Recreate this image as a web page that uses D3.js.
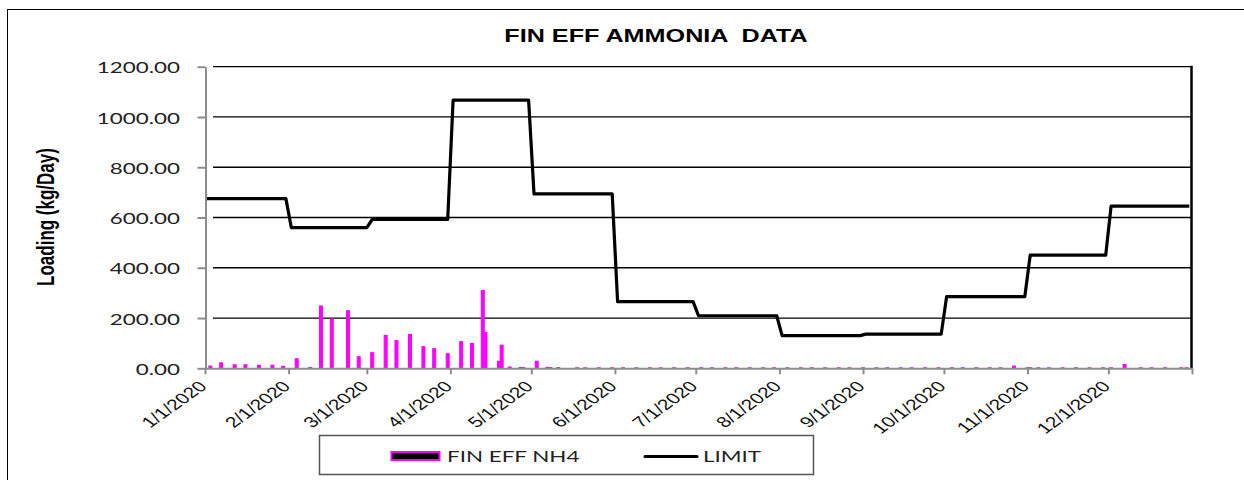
<!DOCTYPE html>
<html><head><meta charset="utf-8">
<script src="https://cdn.jsdelivr.net/npm/d3@7"></script>
<style>body{margin:0;background:#fff}svg{display:block}</style>
</head><body>
<svg id="c" width="1244" height="480"></svg>
<script>
// ---------- DATA ----------
const title = "FIN EFF AMMONIA  DATA";
const yLabel = "Loading (kg/Day)";
const yTicks = [0, 200, 400, 600, 800, 1000, 1200];
const xTickLabels = ["1/1/2020","2/1/2020","3/1/2020","4/1/2020","5/1/2020","6/1/2020","7/1/2020","8/1/2020","9/1/2020","10/1/2020","11/1/2020","12/1/2020"];
const xDomain = ["2020-01-01", "2021-01-01"];

const nh4Dates = ["2020-01-03","2020-01-07","2020-01-12","2020-01-16","2020-01-21","2020-01-26","2020-01-30","2020-02-04","2020-02-09","2020-02-13","2020-02-17","2020-02-23","2020-02-27","2020-03-03","2020-03-08","2020-03-12","2020-03-17","2020-03-22","2020-03-26","2020-03-31","2020-04-05","2020-04-09","2020-04-13","2020-04-14","2020-04-19","2020-04-20","2020-04-23","2020-04-27","2020-04-28","2020-05-03","2020-05-07","2020-05-08","2020-05-11","2020-05-18","2020-05-21","2020-05-26","2020-05-31","2020-06-04","2020-06-09","2020-06-14","2020-06-18","2020-06-23","2020-06-28","2020-07-03","2020-07-07","2020-07-12","2020-07-16","2020-07-21","2020-07-26","2020-07-30","2020-08-04","2020-08-09","2020-08-13","2020-08-18","2020-08-23","2020-08-27","2020-09-01","2020-09-06","2020-09-10","2020-09-15","2020-09-19","2020-09-24","2020-09-29","2020-10-04","2020-10-08","2020-10-13","2020-10-18","2020-10-22","2020-10-27","2020-11-01","2020-11-02","2020-11-05","2020-11-09","2020-11-14","2020-11-19","2020-11-24","2020-11-29","2020-12-02","2020-12-07","2020-12-13","2020-12-17","2020-12-22","2020-12-28","2020-12-30"];
const nh4Values = [9,22,14,14,12,12,8,38,3,248,196,229,46,62,131,110,135,86,78,58,106,99,310,143,28,92,5,3,3,28,4,3,3,2,2,2,2,2,2,2,2,2,2,2,2,2,2,2,2,2,2,2,2,2,2,2,2,2,2,2,2,2,2,2,2,2,2,2,9,2,2,2,2,2,2,2,2,2,15,2,2,2,2,2];

const limitDates = ["2020-01-01","2020-01-31","2020-02-02","2020-03-01","2020-03-03","2020-03-31","2020-04-02","2020-04-30","2020-05-02","2020-05-31","2020-06-02","2020-06-30","2020-07-02","2020-07-31","2020-08-02","2020-08-31","2020-09-02","2020-09-30","2020-10-02","2020-10-31","2020-11-02","2020-11-30","2020-12-02","2020-12-31"];
const limitValues = [675,675,560,560,592,592,1067,1067,694,694,265,265,209,209,130,130,136,136,285,285,450,450,645,645];

const legendLabels = ["FIN EFF NH4", "LIMIT"];

// ---------- CHART ----------
const SX = 1.4; // horizontal stretch of the original picture
const svg = d3.select("#c");
const parse = d3.utcParse("%Y-%m-%d");
const parseTick = d3.utcParse("%m/%d/%Y");

const x = d3.scaleUtc().domain(xDomain.map(parse)).range([205, 1192]);
const y = d3.scaleLinear().domain([0, 1200]).range([368.3, 66.7]);

// outer border
svg.append("rect").attr("x", 7.5).attr("y", 9.5).attr("width", 1400).attr("height", 600)
  .attr("fill", "none").attr("stroke", "#000").attr("stroke-width", 1);

// title
svg.append("text").text(title)
  .attr("transform", `translate(656,42) scale(${SX},1)`)
  .style("white-space", "pre").attr("xml:space", "preserve")
  .attr("text-anchor", "middle").attr("font-family", "Liberation Sans, Arial, sans-serif")
  .attr("font-weight", "bold").attr("font-size", 18).attr("fill", "#000");

// gridlines
svg.append("g").selectAll("line").data(yTicks.filter(d => d > 0)).join("line")
  .attr("x1", 213).attr("x2", x.range()[1]).attr("y1", d => y(d)).attr("y2", d => y(d))
  .attr("stroke", "#000").attr("stroke-width", 1.3);

// bars
const bars = nh4Dates.map((d, i) => ({date: parse(d), v: nh4Values[i]}));
svg.append("g").selectAll("rect").data(bars).join("rect")
  .attr("x", d => x(d.date) - 1.5).attr("width", 3)
  .attr("y", d => y(d.v)).attr("height", d => y(0) - y(d.v))
  .attr("fill", "#FF00FF").attr("stroke", "#FF00FF").attr("stroke-width", 1);

// limit line
const lim = limitDates.map((d, i) => ({date: parse(d), v: limitValues[i]}));
svg.append("path").datum(lim)
  .attr("d", d3.line().x(d => x(d.date)).y(d => y(d.v)))
  .attr("fill", "none").attr("stroke", "#000").attr("stroke-width", 3.2).attr("stroke-linejoin", "round");

// right border of plot
svg.append("line").attr("x1", 1191.5).attr("x2", 1191.5).attr("y1", y(1200) - 1).attr("y2", y(0))
  .attr("stroke", "#000").attr("stroke-width", 2.5);

// y axis
const yAxis = svg.append("g").attr("transform", "translate(205.5,0)")
  .call(d3.axisLeft(y).tickValues(yTicks).tickSize(8).tickSizeOuter(0).tickFormat(d3.format(".2f")));
yAxis.select(".domain").attr("stroke", "#8c8c8c").attr("stroke-width", 2);
yAxis.selectAll(".tick line").attr("stroke", "#8c8c8c").attr("stroke-width", 2);
yAxis.selectAll(".tick text")
  .attr("x", null).attr("dy", null)
  .attr("transform", `translate(-25.5,0) scale(${SX},1)`)
  .attr("dominant-baseline", "central").attr("text-anchor", "end")
  .attr("font-family", "Lato, sans-serif").attr("font-size", 16).attr("fill", "#222");

// x axis
const xTickDates = xTickLabels.map(parseTick).concat([parse(xDomain[1])]);
const xAxis = svg.append("g").attr("transform", `translate(0,${y(0)})`)
  .call(d3.axisBottom(x).tickValues(xTickDates).tickSize(6).tickSizeOuter(0).tickFormat(() => ""));
xAxis.select(".domain").attr("stroke", "#8c8c8c").attr("stroke-width", 2);
xAxis.selectAll(".tick line").attr("stroke", "#8c8c8c").attr("stroke-width", 2);
svg.append("g").selectAll("text").data(xTickLabels).join("text")
  .text(d => d)
  .attr("transform", d => `translate(${x(parseTick(d)) + 3},${y(0) + 19}) scale(${SX},1) rotate(-45)`)
  .attr("text-anchor", "end").attr("font-family", "Liberation Sans, Arial, sans-serif")
  .attr("font-size", 15).attr("fill", "#111");

// y label
svg.append("text").text(yLabel)
  .attr("transform", `translate(54,217) scale(${SX},1) rotate(-90)`)
  .attr("text-anchor", "middle").attr("font-family", "Liberation Sans, Arial, sans-serif")
  .attr("font-weight", "bold").attr("font-size", 17).attr("fill", "#000");

// legend
const lg = svg.append("g");
lg.append("rect").attr("x", 319.5).attr("y", 435.5).attr("width", 494).attr("height", 39)
  .attr("fill", "#fff").attr("stroke", "#555").attr("stroke-width", 1.5);
lg.append("rect").attr("x", 391.5).attr("y", 452).attr("width", 48).attr("height", 8)
  .attr("fill", "#000").attr("stroke", "#FF00FF").attr("stroke-width", 2);
lg.append("line").attr("x1", 645).attr("x2", 697).attr("y1", 456.5).attr("y2", 456.5)
  .attr("stroke", "#000").attr("stroke-width", 3).attr("stroke-linecap", "round");
lg.selectAll("text.lt").data(legendLabels).join("text").attr("class", "lt")
  .text(d => d)
  .attr("transform", (d, i) => `translate(${i === 0 ? 447 : 703},462) scale(${SX},1)`)
  .attr("font-family", "Lato, sans-serif").attr("font-size", 16).attr("fill", "#222");
</script>
</body></html>
